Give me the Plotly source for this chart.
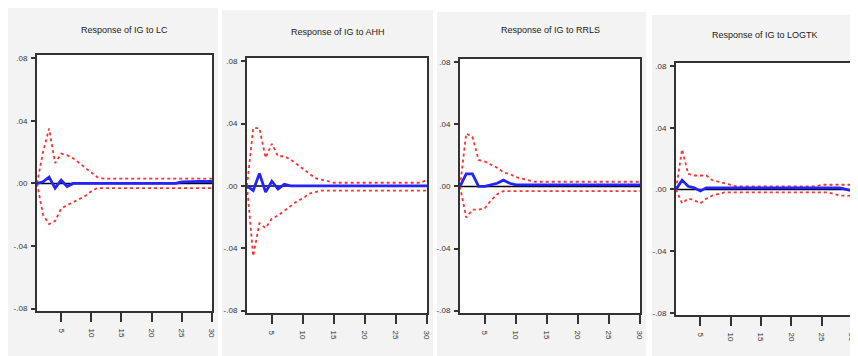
import plotly.graph_objects as go

periods = list(range(1, 31))

titles = ["Response of IG to LC", "Response of IG to AHH",
          "Response of IG to RRLS", "Response of IG to LOGTK"]

ytick_vals = [-0.08, -0.04, 0.0, 0.04, 0.08]
ytick_text = ["-.08", "-.04", ".00", ".04", ".08"]
xtick_vals = [5, 10, 15, 20, 25, 30]
xtick_text = ["5", "10", "15", "20", "25", "30"]

# Response of IG to LC
resp_lc = [0.0, 0.001, 0.004, -0.003, 0.002, -0.002, 0.0, 0.0, 0.0, 0.0,
           0.0, 0.0, 0.0, 0.0, 0.0, 0.0, 0.0, 0.0, 0.0, 0.0,
           0.0, 0.0, 0.0, 0.0, 0.001, 0.0012, 0.0012, 0.0012, 0.0012, 0.0012]
up_lc = [0.0, 0.020, 0.035, 0.013, 0.019, 0.018, 0.016, 0.013, 0.010, 0.007,
         0.004, 0.003, 0.003, 0.003, 0.003, 0.003, 0.003, 0.003, 0.003, 0.003,
         0.003, 0.003, 0.003, 0.003, 0.003, 0.003, 0.003, 0.003, 0.003, 0.003]
lo_lc = [0.0, -0.020, -0.026, -0.024, -0.016, -0.014, -0.012, -0.010, -0.008, -0.005,
         -0.003, -0.003, -0.003, -0.003, -0.003, -0.003, -0.003, -0.003, -0.003, -0.003,
         -0.003, -0.003, -0.003, -0.003, -0.003, -0.003, -0.003, -0.003, -0.003, -0.003]

# Response of IG to AHH
resp_ahh = [0.0, -0.003, 0.008, -0.004, 0.003, -0.002, 0.001, 0.0, 0.0, 0.0,
            0.0, 0.0, 0.0, 0.0, 0.0, 0.0, 0.0, 0.0, 0.0, 0.0,
            0.0, 0.0, 0.0, 0.0, 0.0, 0.0, 0.0, 0.0, 0.0, 0.0]
up_ahh = [0.0, 0.037, 0.037, 0.018, 0.027, 0.019, 0.019, 0.017, 0.014, 0.011,
          0.008, 0.005, 0.004, 0.003, 0.002, 0.002, 0.002, 0.002, 0.002, 0.002,
          0.002, 0.002, 0.002, 0.002, 0.002, 0.002, 0.002, 0.002, 0.002, 0.004]
lo_ahh = [0.0, -0.045, -0.024, -0.027, -0.021, -0.019, -0.016, -0.013, -0.010, -0.008,
          -0.005, -0.004, -0.003, -0.003, -0.003, -0.003, -0.003, -0.003, -0.003, -0.003,
          -0.003, -0.003, -0.003, -0.003, -0.003, -0.003, -0.003, -0.003, -0.003, -0.003]

# Response of IG to RRLS
resp_rrls = [0.0, 0.008, 0.008, 0.0, 0.0, 0.001, 0.002, 0.004, 0.002, 0.001,
             0.001, 0.001, 0.001, 0.001, 0.001, 0.001, 0.001, 0.001, 0.001, 0.001,
             0.001, 0.001, 0.001, 0.001, 0.001, 0.001, 0.001, 0.001, 0.001, 0.001]
up_rrls = [0.0, 0.034, 0.032, 0.017, 0.016, 0.014, 0.012, 0.009, 0.008, 0.006,
           0.005, 0.004, 0.003, 0.003, 0.003, 0.003, 0.003, 0.003, 0.003, 0.003,
           0.003, 0.003, 0.003, 0.003, 0.003, 0.003, 0.003, 0.003, 0.003, 0.003]
lo_rrls = [0.0, -0.020, -0.015, -0.015, -0.014, -0.009, -0.005, -0.003, -0.003, -0.003,
           -0.003, -0.003, -0.003, -0.003, -0.003, -0.003, -0.003, -0.003, -0.003, -0.003,
           -0.003, -0.003, -0.003, -0.003, -0.003, -0.003, -0.003, -0.003, -0.003, -0.003]

# Response of IG to LOGTK
resp_logtk = [0.0, 0.006, 0.002, 0.001, -0.001, 0.001, 0.001, 0.001, 0.001, 0.001,
              0.001, 0.001, 0.001, 0.001, 0.001, 0.001, 0.001, 0.001, 0.001, 0.001,
              0.001, 0.001, 0.001, 0.001, 0.001, 0.001, 0.001, 0.001, 0.0, -0.001]
up_logtk = [0.0, 0.026, 0.010, 0.009, 0.009, 0.009, 0.006, 0.005, 0.004, 0.003,
            0.002, 0.002, 0.002, 0.002, 0.002, 0.002, 0.002, 0.002, 0.002, 0.002,
            0.002, 0.002, 0.002, 0.002, 0.003, 0.003, 0.003, 0.003, 0.003, 0.003]
lo_logtk = [0.0, -0.009, -0.006, -0.007, -0.009, -0.006, -0.004, -0.003, -0.002, -0.002,
            -0.002, -0.002, -0.002, -0.002, -0.002, -0.002, -0.002, -0.002, -0.002, -0.002,
            -0.002, -0.002, -0.002, -0.002, -0.002, -0.002, -0.003, -0.004, -0.004, -0.004]

responses = [resp_lc, resp_ahh, resp_rrls, resp_logtk]
uppers = [up_lc, up_ahh, up_rrls, up_logtk]
lowers = [lo_lc, lo_ahh, lo_rrls, lo_logtk]

W, H = 858, 356
OFF = 8  # the page's default body margin shifts the figure by this much


def px(x):
    return (x - OFF) / W


def py(y):
    return 1 - (y - OFF) / H


# plot boxes in reference pixels: (left, right, top, bottom)
boxes = [(37, 212, 55, 311), (247, 427, 58, 313), (460, 640, 59, 313), (676, 852, 63, 315)]
bgs = [(8, 218, 7, 356), (222, 433, 10, 356), (437, 646, 12, 356), (652, 860, 15, 356)]
title_pos = [(125, 30), (338, 32), (550, 30), (765, 35)]
FONT = "Liberation Sans Narrow, Liberation Sans, Arial"

fig = go.Figure()
for i in range(4):
    xa = "x" if i == 0 else f"x{i+1}"
    ya = "y" if i == 0 else f"y{i+1}"
    fig.add_trace(go.Scatter(x=periods, y=[0] * 30, mode="lines", xaxis=xa, yaxis=ya,
                             line=dict(color="black", width=1.5), showlegend=False, hoverinfo="skip"))
    fig.add_trace(go.Scatter(x=periods, y=uppers[i], mode="lines", xaxis=xa, yaxis=ya,
                             line=dict(color="#ff3030", width=1.8, dash="dot"), showlegend=False))
    fig.add_trace(go.Scatter(x=periods, y=lowers[i], mode="lines", xaxis=xa, yaxis=ya,
                             line=dict(color="#ff3030", width=1.8, dash="dot"), showlegend=False))
    fig.add_trace(go.Scatter(x=periods, y=responses[i], mode="lines", xaxis=xa, yaxis=ya,
                             line=dict(color="#2323ff", width=2.8), showlegend=False))

    l, r, t, b = boxes[i]
    axis_common = dict(showline=True, mirror=True, linecolor="#333333", linewidth=2,
                       showgrid=False, zeroline=False, ticks="outside", tickcolor="#333333",
                       tickwidth=1.5, automargin=False,
                       tickfont=dict(size=8, color="#333333", family=FONT))
    xkey = "xaxis" if i == 0 else f"xaxis{i+1}"
    ykey = "yaxis" if i == 0 else f"yaxis{i+1}"
    fig.update_layout(**{
        xkey: dict(domain=[px(l), px(r)], anchor=ya, range=[1, 30],
                   tickvals=xtick_vals, ticktext=xtick_text, ticklen=9, tickangle=90,
                   ticklabelstandoff=5, **axis_common),
        ykey: dict(domain=[py(b), py(t)], anchor=xa, range=[-0.0815, 0.082],
                   tickvals=ytick_vals, ticktext=ytick_text, ticklen=4,
                   ticklabelstandoff=2, **axis_common),
    })
    bl, br, bt, bb = bgs[i]
    fig.add_shape(type="rect", xref="paper", yref="paper", x0=px(bl), x1=px(br),
                  y0=py(bb), y1=py(bt), fillcolor="#f3f3f3", line=dict(width=0),
                  layer="below")
    fig.add_shape(type="rect", xref=f"{xa} domain", yref=f"{ya} domain", x0=0, x1=1,
                  y0=0, y1=1, fillcolor="#ffffff", line=dict(width=0), layer="below")
    tx, ty = title_pos[i]
    fig.add_annotation(text=titles[i], xref="paper", yref="paper", x=px(tx), y=py(ty),
                       showarrow=False, xanchor="center", yanchor="middle",
                       font=dict(size=9, color="#222222", family=FONT))

fig.update_layout(width=W, height=H, margin=dict(l=0, r=0, t=0, b=0, autoexpand=False),
                  paper_bgcolor="white", plot_bgcolor="rgba(0,0,0,0)")
fig.write_html("out.html")
